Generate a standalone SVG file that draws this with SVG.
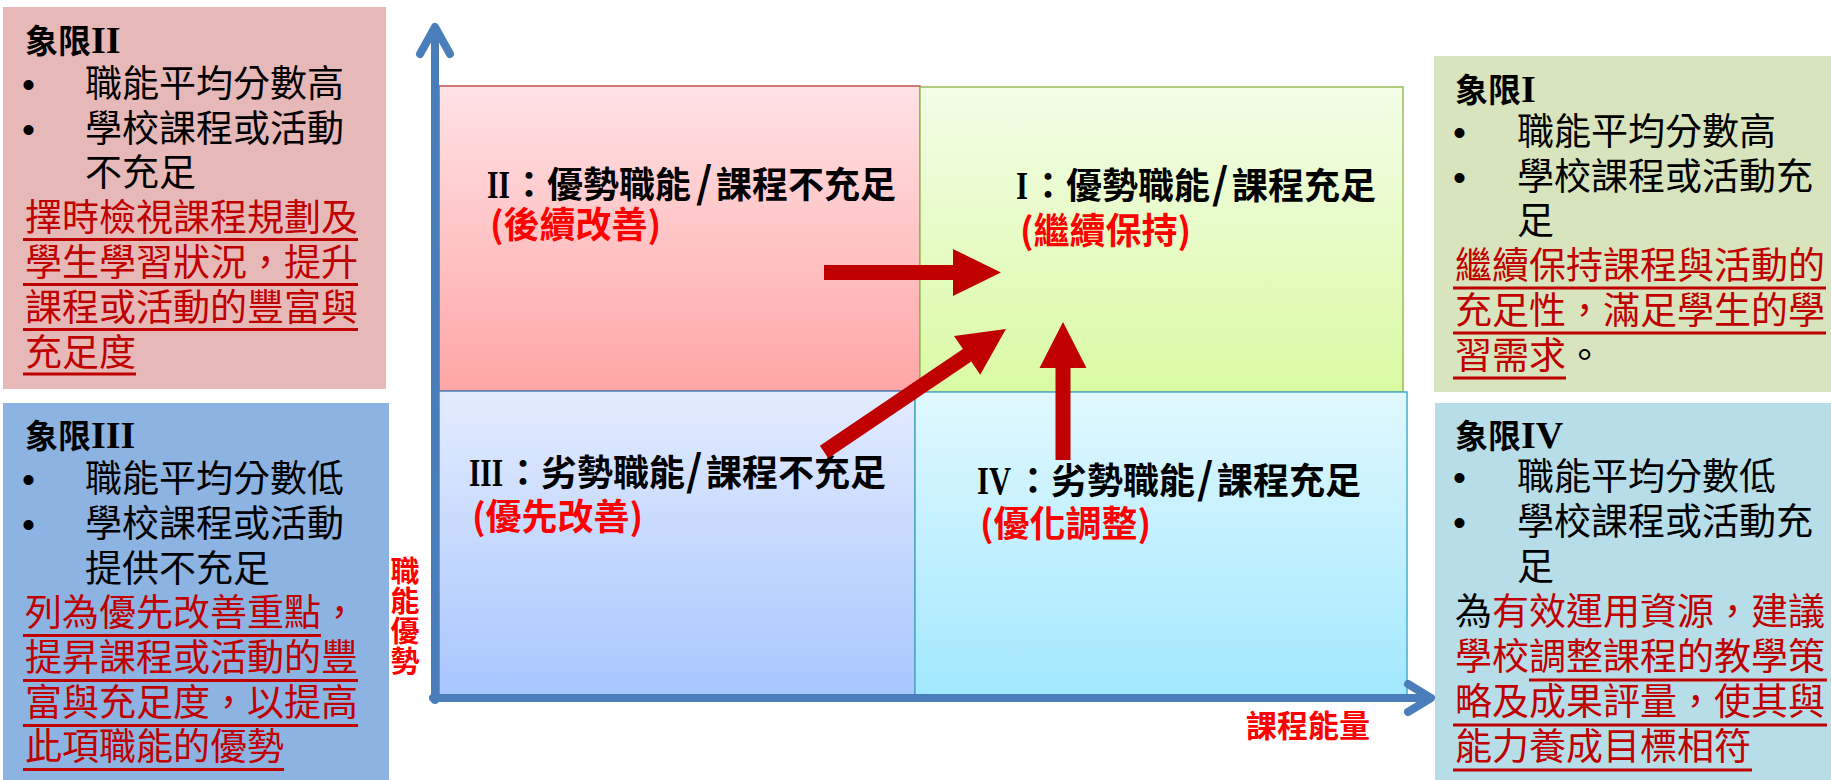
<svg xmlns="http://www.w3.org/2000/svg" width="1831" height="780" viewBox="0 0 1831 780">
<defs>
<linearGradient id="g2" x1="0" y1="0" x2="0" y2="1"><stop offset="0" stop-color="#FFE2E5"/><stop offset="1" stop-color="#FFA6A6"/></linearGradient>
<linearGradient id="g1" x1="0" y1="0" x2="0" y2="1"><stop offset="0" stop-color="#F3FDE8"/><stop offset="1" stop-color="#DAFAA3"/></linearGradient>
<linearGradient id="g3" x1="0" y1="0" x2="0" y2="1"><stop offset="0" stop-color="#E3ECFE"/><stop offset="1" stop-color="#A8C6FE"/></linearGradient>
<linearGradient id="g4" x1="0" y1="0" x2="0" y2="1"><stop offset="0" stop-color="#E1F8FE"/><stop offset="1" stop-color="#A2E8FE"/></linearGradient>
</defs>
<style>
.cjk{font-family:"Noto Sans CJK TC","Noto Sans CJK SC",sans-serif}
.body{font-size:37px;fill:#000}
.red{fill:#C00000}
.blk{fill:#000}
.title{font-size:33px;font-weight:bold;fill:#000}
.rom{font-family:"Liberation Serif","Times New Roman",serif;font-weight:bold}
.bul{font-family:"Liberation Sans",Arial,sans-serif}
.ql{font-size:36px;font-weight:bold;fill:#000}
.sl{font-size:42px}
.qr{fill:#FF0000}
.ax{font-weight:bold;fill:#FF0000}
.ul{stroke:#C00000;stroke-width:3}
.arrow{fill:#C00000}
.axis{stroke:#4A7EBB;stroke-width:8;fill:none;stroke-linecap:round;stroke-linejoin:round}
</style>
<rect width="1831" height="780" fill="#FFFFFF"/>

<g id="note-q2">
<rect x="3" y="7" width="383" height="382" fill="#E6B9B8"/>
<text class="cjk title" x="25" y="53">象限<tspan class="rom" font-size="38">II</tspan></text>
<text class="cjk body" y="97"><tspan class="bul" x="22">•</tspan><tspan x="85">職能平均分數高</tspan></text>
<text class="cjk body" y="142"><tspan class="bul" x="22">•</tspan><tspan x="85">學校課程或活動</tspan></text>
<text class="cjk body" x="85" y="186">不充足</text>
<text class="cjk body red" x="25" y="231">擇時檢視課程規劃及</text>
<text class="cjk body red" x="25" y="276">學生學習狀況，提升</text>
<text class="cjk body red" x="25" y="321">課程或活動的豐富與</text>
<text class="cjk body red" x="25" y="366">充足度</text>
<line class="ul" x1="23" y1="239.5" x2="358" y2="239.5"/>
<line class="ul" x1="23" y1="284.5" x2="358" y2="284.5"/>
<line class="ul" x1="23" y1="329.5" x2="358" y2="329.5"/>
<line class="ul" x1="23" y1="374" x2="136" y2="374"/>
</g>

<g id="note-q3">
<rect x="3" y="403" width="386" height="377" fill="#8DB3E2"/>
<text class="cjk title" x="25" y="448">象限<tspan class="rom" font-size="38">III</tspan></text>
<text class="cjk body" y="492"><tspan class="bul" x="22">•</tspan><tspan x="85">職能平均分數低</tspan></text>
<text class="cjk body" y="537"><tspan class="bul" x="22">•</tspan><tspan x="85">學校課程或活動</tspan></text>
<text class="cjk body" x="85" y="582">提供不充足</text>
<text class="cjk body red" x="25" y="626">列為優先改善重點，</text>
<text class="cjk body red" x="25" y="671">提昇課程或活動的豐</text>
<text class="cjk body red" x="25" y="716">富與充足度，以提高</text>
<text class="cjk body red" x="25" y="760">此項職能的優勢</text>
<line class="ul" x1="23" y1="635.5" x2="321" y2="635.5"/>
<line class="ul" x1="23" y1="680.5" x2="358" y2="680.5"/>
<line class="ul" x1="23" y1="725.5" x2="358" y2="725.5"/>
<line class="ul" x1="23" y1="769.5" x2="284" y2="769.5"/>
</g>

<g id="note-q1">
<rect x="1434" y="56" width="397" height="336" fill="#D7E4BD"/>
<text class="cjk title" x="1455" y="102">象限<tspan class="rom" font-size="38">I</tspan></text>
<text class="cjk body" y="145"><tspan class="bul" x="1453">•</tspan><tspan x="1517">職能平均分數高</tspan></text>
<text class="cjk body" y="190"><tspan class="bul" x="1453">•</tspan><tspan x="1517">學校課程或活動充</tspan></text>
<text class="cjk body" x="1517" y="234">足</text>
<text class="cjk body red" x="1455" y="279">繼續保持課程與活動的</text>
<text class="cjk body red" x="1455" y="324">充足性，滿足學生的學</text>
<text class="cjk body red" x="1455" y="369">習需求<tspan class="blk">。</tspan></text>
<line class="ul" x1="1453" y1="288" x2="1826" y2="288"/>
<line class="ul" x1="1453" y1="333" x2="1826" y2="333"/>
<line class="ul" x1="1453" y1="378" x2="1566" y2="378"/>
</g>

<g id="note-q4">
<rect x="1435" y="403" width="396" height="377" fill="#B7DDE8"/>
<text class="cjk title" x="1455" y="448">象限<tspan class="rom" font-size="38">IV</tspan></text>
<text class="cjk body" y="490"><tspan class="bul" x="1453">•</tspan><tspan x="1517">職能平均分數低</tspan></text>
<text class="cjk body" y="535"><tspan class="bul" x="1453">•</tspan><tspan x="1517">學校課程或活動充</tspan></text>
<text class="cjk body" x="1517" y="580">足</text>
<text class="cjk body" x="1455" y="625">為<tspan class="red">有效運用資源，建議</tspan></text>
<text class="cjk body red" x="1455" y="670">學校調整課程的教學策</text>
<text class="cjk body red" x="1455" y="715">略及成果評量，使其與</text>
<text class="cjk body red" x="1455" y="760">能力養成目標相符</text>
<line class="ul" x1="1529" y1="680" x2="1827" y2="680"/>
<line class="ul" x1="1453" y1="725" x2="1827" y2="725"/>
<line class="ul" x1="1453" y1="770" x2="1752" y2="770"/>
</g>

<g id="quadrant-2">
<rect x="439" y="86" width="481" height="305" fill="url(#g2)" stroke="#C0504D" stroke-width="1.5"/>
<text class="cjk ql" y="198"><tspan class="rom" x="487" font-size="40" textLength="23" lengthAdjust="spacingAndGlyphs">II</tspan><tspan x="511">：優勢職能</tspan><tspan class="sl" x="696">/</tspan><tspan x="716">課程不充足</tspan></text>
<text class="cjk ql qr" x="490" y="238">(後續改善)</text>
</g>

<g id="quadrant-1">
<rect x="920" y="87" width="483" height="305" fill="url(#g1)" stroke="#9BBB59" stroke-width="1.5"/>
<text class="cjk ql" y="199"><tspan class="rom" x="1016" font-size="40" textLength="12" lengthAdjust="spacingAndGlyphs">I</tspan><tspan x="1030">：優勢職能</tspan><tspan class="sl" x="1212">/</tspan><tspan x="1232">課程充足</tspan></text>
<text class="cjk ql qr" x="1020" y="244">(繼續保持)</text>
</g>

<g id="quadrant-3">
<rect x="439" y="391" width="476" height="304" fill="url(#g3)" stroke="#4F81BD" stroke-width="1.5"/>
<text class="cjk ql" y="486"><tspan class="rom" x="469" font-size="40" textLength="34" lengthAdjust="spacingAndGlyphs">III</tspan><tspan x="505">：劣勢職能</tspan><tspan class="sl" x="686">/</tspan><tspan x="706">課程不充足</tspan></text>
<text class="cjk ql qr" x="472" y="530">(優先改善)</text>
</g>

<g id="quadrant-4">
<rect x="915" y="392" width="492" height="303" fill="url(#g4)" stroke="#4BACC6" stroke-width="1.5"/>
<text class="cjk ql" y="494"><tspan class="rom" x="977" font-size="40" textLength="34" lengthAdjust="spacingAndGlyphs">IV</tspan><tspan x="1015">：劣勢職能</tspan><tspan class="sl" x="1197">/</tspan><tspan x="1217">課程充足</tspan></text>
<text class="cjk ql qr" x="980" y="537">(優化調整)</text>
</g>

<g id="axes">
<line class="axis" x1="435" y1="700" x2="435" y2="29"/>
<polyline class="axis" points="420,54 435,27 450,54"/>
<line class="axis" x1="433" y1="698" x2="1429" y2="698"/>
<polyline class="axis" points="1408,684 1431,698 1408,712"/>
<text class="cjk ax" font-size="29" x="405" y="556" writing-mode="vertical-rl" letter-spacing="1">職能優勢</text>
<text class="cjk ax" font-size="31" x="1246" y="737">課程能量</text>
</g>

<g id="connectors">
<polygon class="arrow" points="824,265 953,265 953,249 1001,272.5 953,296 953,280 824,280"/>
<polygon class="arrow" points="819.9,445.8 962.9,349.1 954,335.9 1006,329 980.2,374.7 971.3,361.5 828.3,458.2"/>
<polygon class="arrow" points="1055.5,460 1055.5,368 1039.5,368 1063,322 1086.5,368 1070.5,368 1070.5,460"/>
</g>
</svg>
